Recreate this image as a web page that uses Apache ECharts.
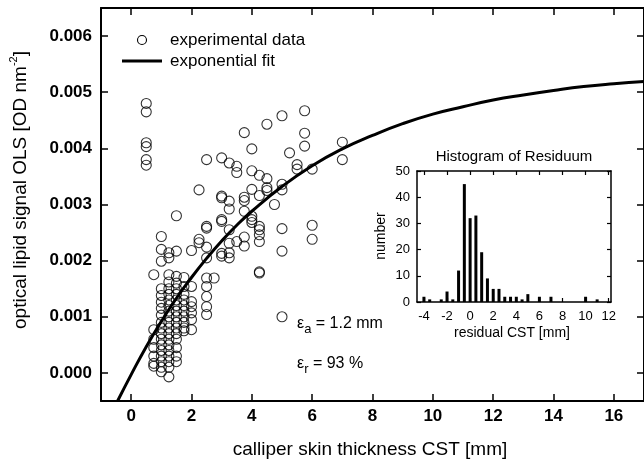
<!DOCTYPE html>
<html><head><meta charset="utf-8">
<script src="https://cdn.jsdelivr.net/npm/echarts@6/dist/echarts.min.js"></script>
<style>html,body{margin:0;padding:0;background:#fff}#c{width:644px;height:465px}</style>
</head><body><div id="c"></div>
<script>
// calliper skin thickness columns (mm) and OLS values measured at each
const cstValues = [0.5, 0.75, 1.0, 1.25, 1.5, 1.75, 2.0, 2.25, 2.5, 2.75, 3.0, 3.25, 3.5, 3.75, 4.0, 4.25, 4.5, 4.75, 5.0, 5.25, 5.5, 5.75, 6.0, 7.0];
const olsByCst = [
  [0.0048, 0.00465, 0.0041, 0.00403, 0.0038, 0.0037],
  [0.00175, 0.00077, 0.0006, 0.00045, 0.0003, 0.00017, 0.00012],
  [0.00243, 0.0022, 0.00199, 0.0015, 0.00138, 0.00126, 0.00115, 0.00103, 0.0009, 0.0008, 0.0007, 0.0006, 0.0005, 0.0004, 0.0003, 0.0002, 0.0001, 0.00002],
  [0.00214, 0.00205, 0.00175, 0.00162, 0.0015, 0.0014, 0.0013, 0.0012, 0.0011, 0.001, 0.0009, 0.0008, 0.0007, 0.0006, 0.0005, 0.0004, 0.0003, 0.0002, 0.0001, -0.00007],
  [0.0028, 0.00217, 0.00172, 0.0016, 0.0015, 0.0014, 0.0013, 0.0012, 0.0011, 0.001, 0.0009, 0.0008, 0.0007, 0.0006, 0.00045, 0.0003, 0.0002],
  [0.0017, 0.00154, 0.0014, 0.0013, 0.0012, 0.0011, 0.001, 0.0009, 0.0008, 0.00075],
  [0.00218, 0.00154, 0.00127, 0.00118, 0.00107, 0.00095, 0.00077],
  [0.00326, 0.00238, 0.00232],
  [0.0038, 0.00261, 0.00258, 0.00224, 0.00205, 0.00169, 0.00154, 0.00136, 0.00118, 0.00104],
  [0.00169],
  [0.00383, 0.00315, 0.00312, 0.00273, 0.0027, 0.00213, 0.00208],
  [0.00374, 0.00306, 0.00292, 0.00255, 0.00231, 0.00214, 0.00205],
  [0.00368, 0.00357, 0.00234],
  [0.00428, 0.00313, 0.00307, 0.00288, 0.00242, 0.00226],
  [0.00399, 0.0036, 0.00327, 0.00279, 0.00273, 0.00268],
  [0.00352, 0.00316, 0.00261, 0.00255, 0.00246, 0.00234, 0.0018, 0.00178],
  [0.00443, 0.00346, 0.0033, 0.00325],
  [0.003],
  [0.00458, 0.00336, 0.00326, 0.00257, 0.00217, 0.001],
  [0.00392],
  [0.00371, 0.00363],
  [0.00467, 0.00427, 0.00404],
  [0.00363, 0.00263, 0.00238],
  [0.00411, 0.0038]
];
// exponential fit curve
const fitX = [-0.45, 0, 0.5, 1, 1.5, 2, 2.5, 3, 3.5, 4, 5, 6, 7, 8, 9, 10, 11, 12, 13, 14, 15, 16, 17];
const fitY = [-0.0005, -0.00003, 0.000467, 0.000918, 0.00133, 0.0017, 0.00204, 0.00235, 0.00263, 0.00288, 0.00332, 0.00369, 0.00399, 0.00423, 0.00444, 0.00461, 0.00474, 0.00486, 0.00495, 0.00503, 0.0051, 0.00515, 0.00519];
const xTicks = [0, 2, 4, 6, 8, 10, 12, 14, 16];
const yTicks = [0, 0.001, 0.002, 0.003, 0.004, 0.005, 0.006];
// histogram of residuum
const histBins = [-4, -3.5, -2.5, -2, -1.5, -1, -0.5, 0, 0.5, 1, 1.5, 2, 2.5, 3, 3.5, 4, 4.5, 5, 6, 7, 10, 11];
const histCounts = [2, 1, 1, 4, 1, 12, 45, 32, 33, 19, 9, 5, 5, 2, 2, 2, 1, 3, 2, 2, 2, 1];
const histXTicks = [-4, -2, 0, 2, 4, 6, 8, 10, 12];
const histYTicks = [0, 10, 20, 30, 40, 50];

const scatterData = [];
cstValues.forEach((x, i) => olsByCst[i].forEach(y => scatterData.push([x, y])));
const fitData = fitX.map((x, i) => [x, fitY[i]]);
const histData = histBins.map((x, i) => [x, histCounts[i]]);

const FONT = '"Liberation Sans", Arial, sans-serif';
const chart = echarts.init(document.getElementById('c'), null, {renderer: 'canvas'});

function mkAxis(extra, lw) {
  return Object.assign({
    type: 'value',
    axisLine: {show: true, onZero: false, lineStyle: {color: '#000', width: lw}},
    splitLine: {show: false},
    axisLabel: {show: false}
  }, extra);
}
const mainLabel = {show: true, color: '#000', fontFamily: FONT, fontWeight: 'bold', fontSize: 17};
const insetLabel = {show: true, color: '#000', fontFamily: FONT, fontSize: 13};
const mainTick = v => ({show: true, inside: true, length: 7, customValues: v, lineStyle: {color: '#000', width: 1.5}});
const insetTick = v => ({show: true, inside: true, length: 4, customValues: v, lineStyle: {color: '#000', width: 1.2}});

chart.setOption({
  animation: false,
  grid: [
    {left: 101, top: 8, right: -3, bottom: 64},
    {left: 417, top: 171, width: 194, height: 131}
  ],
  xAxis: [
    mkAxis({gridIndex: 0, position: 'bottom', min: -1, max: 17, axisTick: mainTick(xTicks),
      axisLabel: Object.assign({customValues: xTicks, margin: 7}, mainLabel)}, 2),
    mkAxis({gridIndex: 0, position: 'top', min: -1, max: 17, axisTick: mainTick(xTicks)}, 2),
    mkAxis({gridIndex: 1, position: 'bottom', min: -4.6, max: 12.2, axisTick: insetTick(histXTicks),
      axisLabel: Object.assign({customValues: histXTicks, margin: 8}, insetLabel)}, 1.5),
    mkAxis({gridIndex: 1, position: 'top', min: -4.6, max: 12.2, axisTick: insetTick(histXTicks)}, 1.5)
  ],
  yAxis: [
    mkAxis({gridIndex: 0, position: 'left', min: -0.0005, max: 0.0065, axisTick: mainTick(yTicks),
      axisLabel: Object.assign({customValues: yTicks, margin: 9, formatter: v => v.toFixed(3)}, mainLabel)}, 2),
    mkAxis({gridIndex: 0, position: 'right', min: -0.0005, max: 0.0065, axisTick: mainTick(yTicks)}, 2),
    mkAxis({gridIndex: 1, position: 'left', min: 0, max: 50, axisTick: insetTick(histYTicks),
      axisLabel: Object.assign({customValues: histYTicks, margin: 7}, insetLabel)}, 1.5),
    mkAxis({gridIndex: 1, position: 'right', min: 0, max: 50, axisTick: insetTick(histYTicks)}, 1.5)
  ],
  series: [
    {type: 'scatter', xAxisIndex: 0, yAxisIndex: 0, data: scatterData, symbol: 'circle', symbolSize: 10,
      itemStyle: {color: 'rgba(0,0,0,0)', borderColor: '#000', borderWidth: 1.1}, silent: true, z: 2},
    {type: 'line', xAxisIndex: 0, yAxisIndex: 0, data: fitData, smooth: true, showSymbol: false,
      lineStyle: {color: '#000', width: 3}, silent: true, z: 3, clip: true},
    {type: 'bar', xAxisIndex: 2, yAxisIndex: 2, data: histData, barWidth: 3,
      itemStyle: {color: '#000'}, silent: true}
  ],
  graphic: [
    {type: 'circle', shape: {cx: 142, cy: 40, r: 4.5}, style: {fill: 'none', stroke: '#000', lineWidth: 1.1}},
    {type: 'line', shape: {x1: 122, y1: 61, x2: 162, y2: 61}, style: {stroke: '#000', lineWidth: 3}},
    {type: 'text', x: 170, y: 40, style: {text: 'experimental data', font: '17px ' + FONT, fill: '#000', textVerticalAlign: 'middle'}},
    {type: 'text', x: 170, y: 61, style: {text: 'exponential fit', font: '17px ' + FONT, fill: '#000', textVerticalAlign: 'middle'}},
    {type: 'text', x: 370, y: 450, style: {text: 'calliper skin thickness CST [mm]', font: '19px ' + FONT, fill: '#000', textAlign: 'center', textVerticalAlign: 'middle'}},
    {type: 'text', x: 21, y: 190, rotation: Math.PI / 2, style: {
      text: '{a|optical lipid signal OLS [OD nm}{s|-2}{a|]}', textAlign: 'center', textVerticalAlign: 'middle',
      rich: {a: {fontSize: 19, fontFamily: FONT, fill: '#000', lineHeight: 26}, s: {fontSize: 11, fontFamily: FONT, fill: '#000', verticalAlign: 'top', lineHeight: 13}}}},
    {type: 'text', x: 297, y: 324, style: {
      text: '{a|ε}{b|a}{a| = 1.2 mm}', textVerticalAlign: 'middle',
      rich: {a: {fontSize: 16, fontFamily: FONT, fill: '#000', lineHeight: 24}, b: {fontSize: 13, fontFamily: FONT, fill: '#000', verticalAlign: 'bottom', lineHeight: 14}}}},
    {type: 'text', x: 297, y: 364, style: {
      text: '{a|ε}{b|r}{a| = 93 %}', textVerticalAlign: 'middle',
      rich: {a: {fontSize: 16, fontFamily: FONT, fill: '#000', lineHeight: 24}, b: {fontSize: 13, fontFamily: FONT, fill: '#000', verticalAlign: 'bottom', lineHeight: 14}}}},
    {type: 'text', x: 514, y: 157, style: {text: 'Histogram of Residuum', font: '15px ' + FONT, fill: '#000', textAlign: 'center', textVerticalAlign: 'middle'}},
    {type: 'text', x: 512, y: 333, style: {text: 'residual CST [mm]', font: '14px ' + FONT, fill: '#000', textAlign: 'center', textVerticalAlign: 'middle'}},
    {type: 'text', x: 381, y: 236, rotation: Math.PI / 2, style: {text: 'number', font: '14px ' + FONT, fill: '#000', textAlign: 'center', textVerticalAlign: 'middle'}}
  ]
});
</script></body></html>
